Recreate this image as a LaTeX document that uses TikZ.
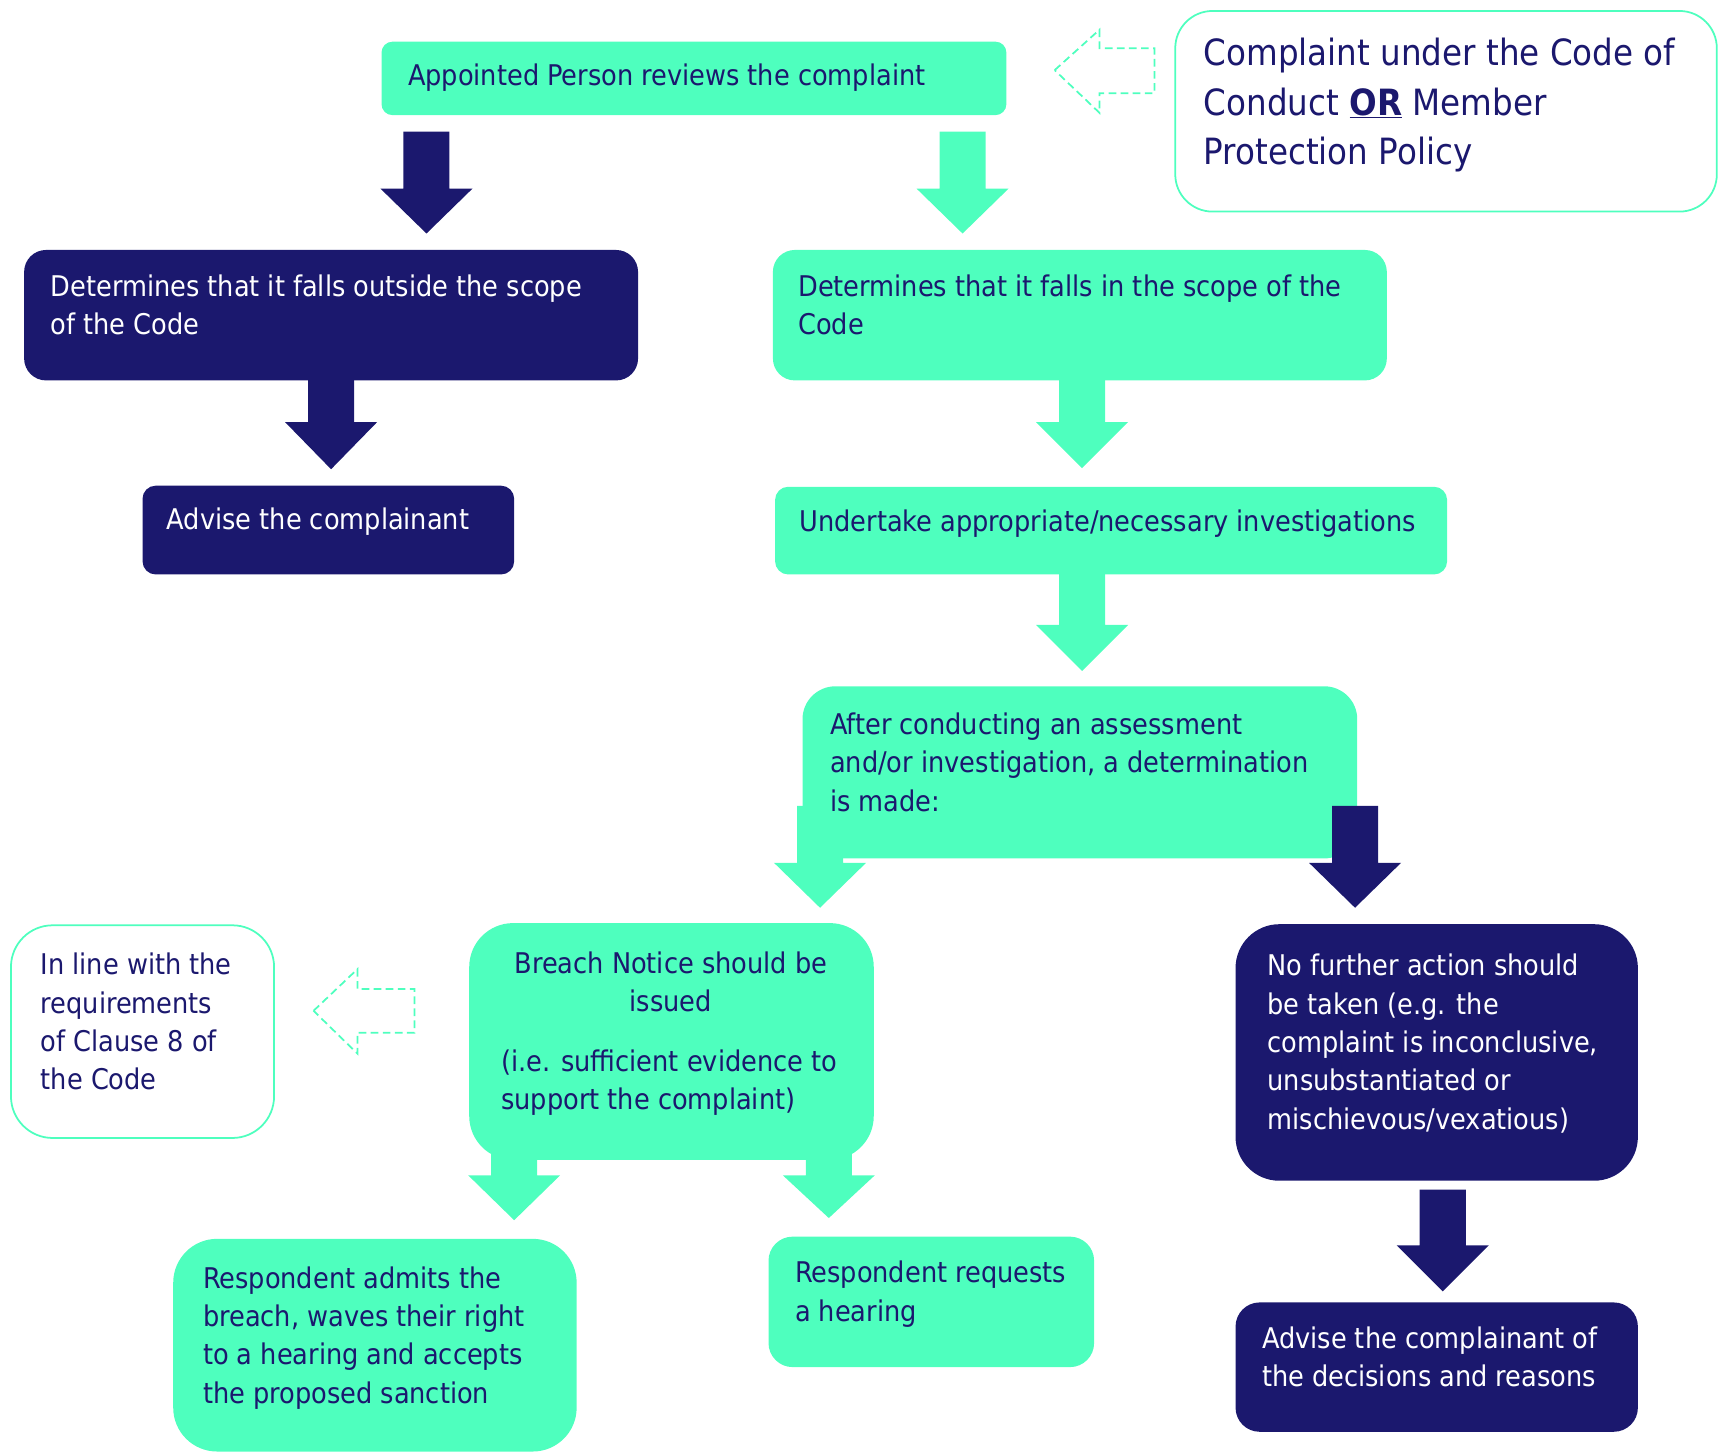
\documentclass[tikz,border=0pt]{standalone}
\usepackage{fontspec}
\setmainfont{DejaVu Sans Condensed}
\definecolor{mint}{RGB}{78,255,190}
\definecolor{navy}{RGB}{27,24,110}
\newcommand{\blockdown}[5]{%
  \fill[#1] (#2-21,#3) -- (#2+21,#3) -- (#2+21,#4) -- (#2+42,#4) -- (#2,#5) -- (#2-42,#4) -- (#2-21,#4) -- cycle;}
\begin{document}
\begin{tikzpicture}[x=1pt,y=-1pt,
  boxbase/.style={anchor=north west, inner sep=0pt, outer sep=0pt},
  gbox/.style={boxbase, fill=mint},
  nbox/.style={boxbase, fill=navy},
  obox/.style={boxbase, fill=white, draw=mint, line width=1.6pt},
  txt/.style={anchor=base west, inner sep=0pt, align=left, font=\fontsize{26}{35}\selectfont},
  ntxt/.style={txt, text=navy},
  wtxt/.style={txt, text=white},
  dasharrow/.style={draw=mint, dashed, line width=1.6pt, dash pattern=on 7pt off 4pt}
]
\useasboundingbox (0,0) rectangle (1568,1326);

% boxes
\node[gbox, rounded corners=10, minimum width=570, minimum height=67] (ap) at (348,38) {};
\node[obox, rounded corners=34, minimum width=494, minimum height=183] (cc) at (1072,10) {};
\node[nbox, rounded corners=20, minimum width=560, minimum height=119] (out) at (22,228) {};
\node[gbox, rounded corners=20, minimum width=560, minimum height=119] (in) at (705,228) {};
\node[nbox, rounded corners=12, minimum width=339, minimum height=81] (adv) at (130,443) {};
\node[gbox, rounded corners=12, minimum width=613, minimum height=80] (und) at (707,444) {};
\node[gbox, rounded corners=30, minimum width=506, minimum height=157] (aft) at (732,626) {};
\node[obox, rounded corners=38, minimum width=240, minimum height=194] (cl) at (10,844) {};
\node[gbox, rounded corners=40, minimum width=369, minimum height=216] (br) at (428,842) {};
\node[nbox, rounded corners=40, minimum width=367, minimum height=234] (nfa) at (1127,843) {};
\node[nbox, rounded corners=22, minimum width=367, minimum height=118] (advd) at (1127,1188) {};
\node[gbox, rounded corners=40, minimum width=368, minimum height=194] (adm) at (158,1130) {};
\node[gbox, rounded corners=22, minimum width=297, minimum height=119] (req) at (701,1128) {};

% block arrows
\blockdown{navy}{389}{120}{172}{213}
\blockdown{mint}{878}{120}{172}{213}
\blockdown{navy}{302}{340}{385}{428}
\blockdown{mint}{987}{340}{385}{427}
\blockdown{mint}{987}{520}{570}{612}
\blockdown{mint}{748}{735}{787}{828}
\blockdown{navy}{1236}{735}{787}{828}
\blockdown{mint}{469}{1040}{1072}{1113}
\blockdown{mint}{756}{1040}{1072}{1111}
\blockdown{navy}{1316}{1085}{1136}{1178}

% dashed arrows
\draw[dasharrow] (962,64) -- (1003,27) -- (1003,44) -- (1053,44) -- (1053,85) -- (1003,85) -- (1003,103) -- cycle;
\draw[dasharrow] (286,922) -- (326,884) -- (326,902) -- (378,902) -- (378,942) -- (326,942) -- (326,961) -- cycle;

% texts (anchored at the baseline of the last line)
\node[ntxt] (tap) at (372,78) {Appointed Person reviews the complaint};
\node[txt, text=navy, font=\fontsize{33}{45}\selectfont] (tcc) at (1098,150) {Complaint under the Code of\\Conduct \underline{\textbf{OR}} Member\\Protection Policy};
\node[wtxt] (tout) at (46,305) {Determines that it falls outside the scope\\of the Code};
\node[ntxt] (tin) at (728,305) {Determines that it falls in the scope of the\\Code};
\node[wtxt] (tadv) at (152,483) {Advise the complainant};
\node[ntxt] (tund) at (729,485) {Undertake appropriate/necessary investigations};
\node[ntxt] (taft) at (757,740) {After conducting an assessment\\and/or investigation, a determination\\is made:};
\node[ntxt, anchor=base, align=center] (tbr1) at (612,923) {Breach Notice should be\\issued};
\node[ntxt] (tbr2) at (457,1012) {(i.e. sufficient evidence to\\support the complaint)};
\node[ntxt] (tcl) at (37,994) {In line with the\\requirements\\of Clause 8 of\\the Code};
\node[wtxt] (tnfa) at (1156,1030) {No further action should\\be taken (e.g. the\\complaint is inconclusive,\\unsubstantiated or\\mischievous/vexatious)};
\node[wtxt] (tadvd) at (1151,1265) {Advise the complainant of\\the decisions and reasons};
\node[ntxt] (tadm) at (185,1280) {Respondent admits the\\breach, waves their right\\to a hearing and accepts\\the proposed sanction};
\node[ntxt] (treq) at (725,1205) {Respondent requests\\a hearing};
\end{tikzpicture}
\end{document}
